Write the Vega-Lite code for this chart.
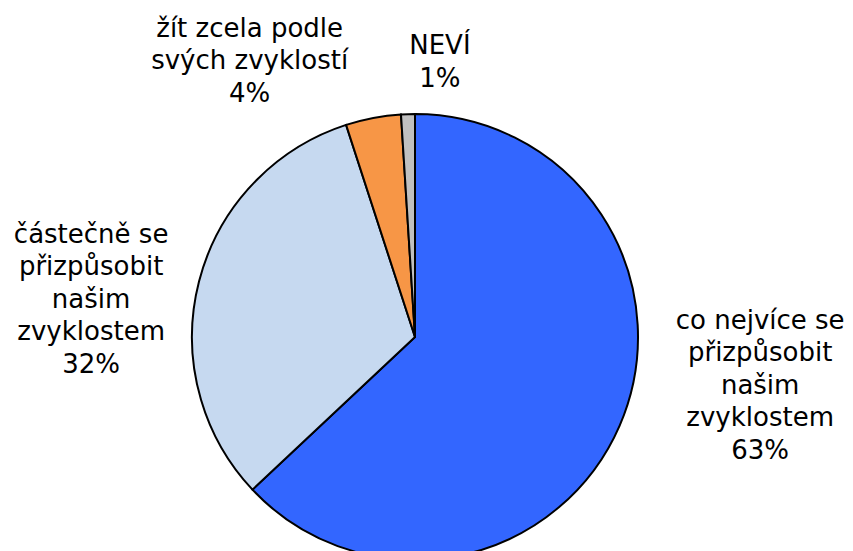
{
  "$schema": "https://vega.github.io/schema/vega-lite/v6.json",
  "width": 830,
  "height": 674,
  "autosize": "none",
  "padding": {"left": 0, "top": 0, "right": 23, "bottom": 0},
  "background": "white",
  "config": {"view": {"stroke": null}},
  "data": {"values": [
    {"id": 1, "category": "co nejvíce se přizpůsobit našim zvyklostem", "value": 63, "label": "co nejvíce se\npřizpůsobit\nnašim\nzvyklostem\n63%"},
    {"id": 2, "category": "částečně se přizpůsobit našim zvyklostem", "value": 32, "label": "částečně se\npřizpůsobit\nnašim\nzvyklostem\n32%"},
    {"id": 3, "category": "žít zcela podle svých zvyklostí", "value": 4, "label": "žít zcela podle\nsvých zvyklostí\n4%"},
    {"id": 4, "category": "NEVÍ", "value": 1, "label": "NEVÍ\n1%"}
  ]},
  "encoding": {
    "theta": {"field": "value", "type": "quantitative", "stack": true},
    "order": {"field": "id", "type": "quantitative"}
  },
  "layer": [
    {
      "mark": {"type": "arc", "outerRadius": 223, "stroke": "black", "strokeWidth": 2},
      "encoding": {
        "color": {"field": "category", "type": "nominal", "legend": null,
          "scale": {"domain": ["co nejvíce se přizpůsobit našim zvyklostem", "částečně se přizpůsobit našim zvyklostem", "žít zcela podle svých zvyklostí", "NEVÍ"],
                    "range": ["#3366FF", "#C6D9F0", "#F79646", "#C0C0C0"]}}
      }
    },
    {
      "mark": {"type": "text", "radius": 290, "dx": 79, "dy": -131.5, "font": "DejaVu Sans", "fontSize": 26, "lineBreak": "\n", "lineHeight": 32.5, "baseline": "middle", "align": "center", "color": "black"},
      "encoding": {"text": {"condition": {"test": "datum.id == 1", "field": "label"}, "value": ""}}
    },
    {
      "mark": {"type": "text", "radius": 290, "dx": -43, "dy": -30, "font": "DejaVu Sans", "fontSize": 26, "lineBreak": "\n", "lineHeight": 32.5, "baseline": "middle", "align": "center", "color": "black"},
      "encoding": {"text": {"condition": {"test": "datum.id == 2", "field": "label"}, "value": ""}}
    },
    {
      "mark": {"type": "text", "radius": 290, "dx": -111, "dy": -23.5, "font": "DejaVu Sans", "fontSize": 26, "lineBreak": "\n", "lineHeight": 32.5, "baseline": "middle", "align": "center", "color": "black"},
      "encoding": {"text": {"condition": {"test": "datum.id == 3", "field": "label"}, "value": ""}}
    },
    {
      "mark": {"type": "text", "radius": 290, "dx": 34, "dy": -1, "font": "DejaVu Sans", "fontSize": 26, "lineBreak": "\n", "lineHeight": 32.5, "baseline": "middle", "align": "center", "color": "black"},
      "encoding": {"text": {"condition": {"test": "datum.id == 4", "field": "label"}, "value": ""}}
    }
  ]
}
